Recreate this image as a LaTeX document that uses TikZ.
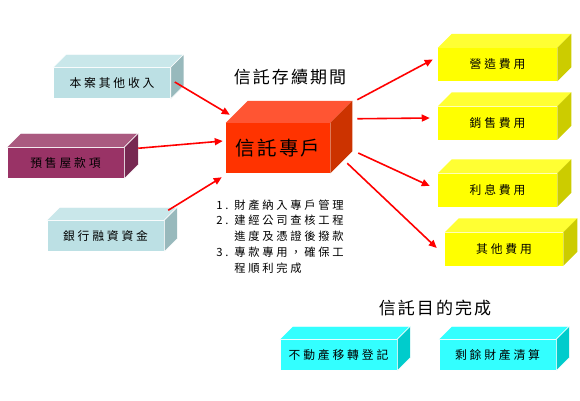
\documentclass[tikz,border=0pt]{standalone}
\usepackage{fontspec}
\newfontfamily\tcbox[LetterSpace=24]{Noto Sans CJK TC}
\newfontfamily\tchead[LetterSpace=12]{Noto Sans CJK TC}
\usetikzlibrary{arrows.meta,positioning,calc}

\definecolor{blueF}{HTML}{BCE0E4}
\definecolor{blueT}{HTML}{C9E7EA}
\definecolor{blueS}{HTML}{98B9BC}
\definecolor{plumF}{HTML}{993366}
\definecolor{plumT}{HTML}{AA5A80}
\definecolor{plumS}{HTML}{772952}
\definecolor{redF}{HTML}{FF3300}
\definecolor{redT}{HTML}{FF5533}
\definecolor{redS}{HTML}{CC3300}
\definecolor{yelF}{HTML}{FFFF00}
\definecolor{yelT}{HTML}{FFFF33}
\definecolor{yelS}{HTML}{CCCC00}
\definecolor{cyanF}{HTML}{33FFFF}
\definecolor{cyanT}{HTML}{33FFFF}
\definecolor{cyanS}{HTML}{00CCCC}

\begin{document}
\begin{tikzpicture}[
  x=1pt, y=-1pt,
  every node/.style={font=\tcbox\fontsize{11.8}{14}\selectfont, anchor=center, inner sep=0pt},
  face/.style={draw=white, line width=0.5pt},
  slab/.style={face, minimum width=117pt, minimum height=31pt},
  costslab/.style={slab, draw=none, fill=yelF, minimum width=119pt, minimum height=33pt},
  headline/.style={font=\tchead\fontsize{17}{19}\selectfont},
  flow/.style={draw=red, line width=1.6pt, -{Triangle[length=8pt, width=7pt]}}
]
  \useasboundingbox (0,0) rectangle (580,400);

  % --- Einnahmen ---
  \node (inc1) [slab, fill=blueF] at (112,83) {本案其他收入};
  \node (inc2) [slab, fill=plumF] at (65.5,163) {預售屋款項};
  \node (inc3) [slab, fill=blueF] at (105.5,236) {銀行融資資金};

  % --- Treuhandkonto ---
  \node (during) [headline] at (290,77) {信託存續期間};
  \node (acct) [face, draw=none, fill=redF, minimum width=104pt, minimum height=50pt,
    font=\tchead\fontsize{19.5}{21}\selectfont] at (278,148) {信託專戶};
  \node (notes) [below=26pt of acct, xshift=2pt, align=left, font=\tcbox\fontsize{11.3}{15.8}\selectfont] {%
    \makebox[18pt][l]{1.}財產納入專戶管理\\
    \makebox[18pt][l]{2.}建經公司查核工程\\
    \makebox[18pt][l]{}進度及憑證後撥款\\
    \makebox[18pt][l]{3.}專款專用，確保工\\
    \makebox[18pt][l]{}程順利完成};

  % --- Ausgaben ---
  \node (cost1) [costslab] at (497.5,64.5) {營造費用};
  \node (cost2) [costslab] at (497.5,123) {銷售費用};
  \node (cost3) [costslab] at (497.5,190) {利息費用};
  \node (cost4) [costslab, minimum width=118pt] at (504,249) {其他費用};

  % --- Abschluss ---
  \node (done) [headline] at (435,308) {信託目的完成};
  \node (done1) [slab, fill=cyanF] at (338.5,355) {不動產移轉登記};
  \node (done2) [slab, fill=cyanF] at (497.5,355) {剩餘財產清算};

  % Deckflaechen und Seitenflaechen
  \foreach \n/\d/\ct/\cs/\ed in {inc1/13/blueT/blueS/white, inc2/14/plumT/plumS/white,
      inc3/13/blueT/blueS/white, acct/22/redT/redS/none, cost1/14/yelT/yelS/none,
      cost2/14/yelT/yelS/none, cost3/14/yelT/yelS/none, cost4/14/yelT/yelS/none,
      done1/13/cyanT/cyanS/white, done2/13/cyanT/cyanS/white}{
    \filldraw[face, draw=\ed, fill=\ct] (\n.north west) -- ++(\d,-\d)
      -- ($(\n.north east)+(\d,-\d)$) -- (\n.north east) -- cycle;
    \filldraw[face, draw=\ed, fill=\cs] (\n.north east) -- ++(\d,-\d)
      -- ($(\n.south east)+(\d,-\d)$) -- (\n.south east) -- cycle;
  }

  % Pfeile
  \draw[flow] ($(inc1.east)+(4,-1)$) -- ($(acct.north west)+(4,-8)$);
  \draw[flow] ($(inc2.north east)+(14,1)$) -- ($(acct.west)+(-3,-7)$);
  \draw[flow] ($(inc3.north east)+(4,-10)$) -- ($(acct.south west)+(-4,4)$);
  \draw[flow] ($(acct.north east)+(27,-23)$) -- ($(cost1.west)+(-5,-5)$);
  \draw[flow] ($(acct.north east)+(27,-4)$) -- ($(cost2.west)+(-8,-5)$);
  \draw[flow] ($(acct.east)+(28,5)$) -- ($(cost3.west)+(-8,-4)$);
  \draw[flow] ($(acct.south east)+(17,-10)$) -- ($(cost4.west)+(-8,-1)$);
\end{tikzpicture}
\end{document}
